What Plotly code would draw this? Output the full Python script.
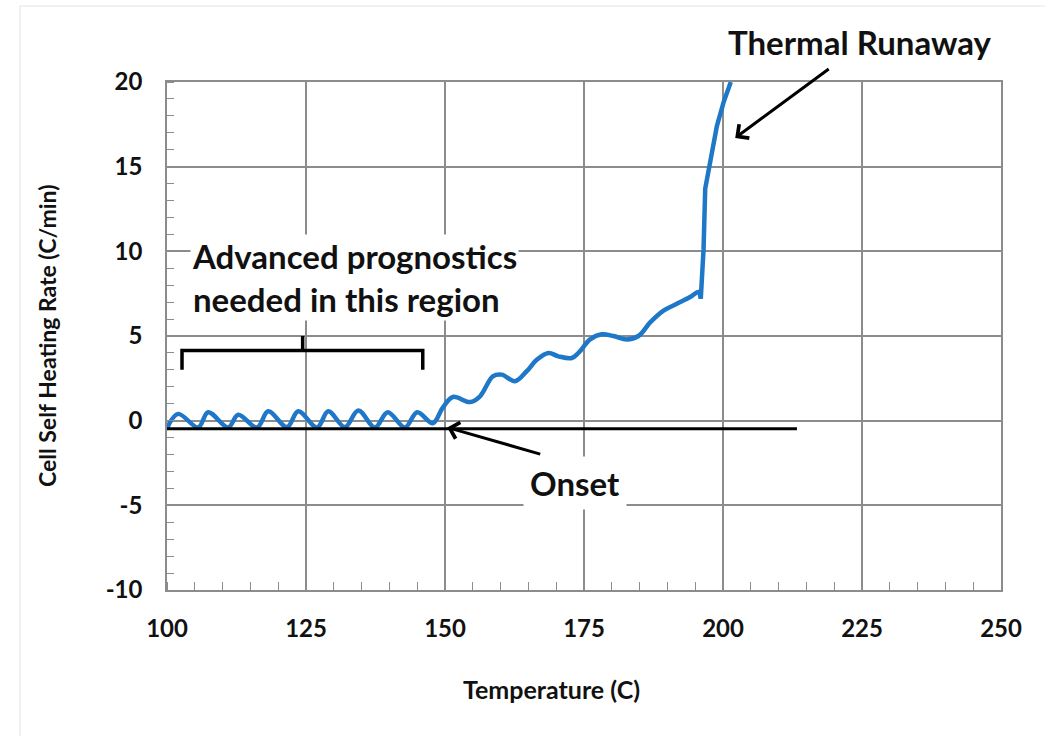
import plotly.graph_objects as go

# Data: pre-runaway heating rate (smooth)
temp_main = [100.0, 102.0, 105.6, 107.4, 111.0, 112.8, 116.2, 118.2, 121.6, 123.6,
             127.0, 129.0, 132.0, 134.4, 137.4, 139.7, 142.8, 145.0, 147.8, 149.6,
             151.4, 154.5, 156.3, 158.6, 160.2, 162.6, 164.7, 166.5, 168.6, 170.4,
             172.8, 174.0, 176.1, 178.2, 180.3, 182.7, 184.8, 186.9, 189.3, 191.7,
             194.1, 195.6, 196.0]
rate_main = [-0.45, 0.4, -0.4, 0.5, -0.4, 0.35, -0.4, 0.55, -0.38, 0.55,
             -0.4, 0.55, -0.38, 0.6, -0.4, 0.5, -0.4, 0.5, -0.15, 0.77,
             1.4, 1.1, 1.44, 2.62, 2.72, 2.33, 2.92, 3.6, 4.0, 3.8,
             3.7, 4.0, 4.8, 5.1, 5.0, 4.8, 5.0, 5.8, 6.5, 6.9,
             7.3, 7.6, 7.2]
# Data: runaway portion
temp_run = [196.0, 196.5, 196.8, 197.7, 198.9, 200.1, 201.4]
rate_run = [7.2, 10.1, 13.7, 15.4, 17.4, 18.8, 20.0]

x_ticks = [100, 125, 150, 175, 200, 225, 250]
y_ticks = [-10, -5, 0, 5, 10, 15, 20]

FONT = "Lato"
TXT = "#111111"
BLUE = "#1f77c8"
GRID = "#8c8c8c"

fig = go.Figure()
fig.add_trace(go.Scatter(x=temp_main, y=rate_main, mode="lines",
                         line=dict(color=BLUE, width=4.5, shape="spline", smoothing=1.0),
                         showlegend=False, hoverinfo="skip"))
fig.add_trace(go.Scatter(x=temp_run, y=rate_run, mode="lines",
                         line=dict(color=BLUE, width=4.5),
                         showlegend=False, hoverinfo="skip"))

# Baseline
fig.add_shape(type="line", x0=100, x1=213.3, y0=-0.47, y1=-0.47,
              line=dict(color="black", width=3), layer="above")

# Brace
fig.add_shape(type="path",
              path="M 102.7,3.0 L 102.7,4.15 L 146.0,4.15 L 146.0,3.0 M 124.4,4.15 L 124.4,5.0",
              line=dict(color="black", width=3.5))

# Outer frame
fig.add_shape(type="rect", xref="paper", yref="paper",
              x0=-0.1763, x1=1.2, y0=-0.5, y1=1.1496,
              line=dict(color="#e3e3e3", width=1), layer="below")

# Annotations
fig.add_annotation(x=(190 - 167) / 5.56 + 100, y=8.46, xanchor="left",
                   text="Advanced prognostics<br>needed in this region",
                   showarrow=False, bgcolor="white", align="left",
                   font=dict(family=FONT, size=33, color=TXT, weight="bold"))
fig.add_annotation(x=173.4, y=-3.7, text="Onset", showarrow=False, bgcolor="white",
                   borderpad=6,
                   font=dict(family=FONT, size=33, color=TXT, weight="bold"))
fig.add_annotation(x=150.4, y=-0.4, ax=167.4, ay=-2.0, axref="x", ayref="y",
                   xref="x", yref="y", text="", showarrow=True,
                   arrowhead=4, arrowsize=1.1, arrowwidth=3, arrowcolor="black")
fig.add_annotation(xref="paper", yref="paper", x=(860 - 167) / 834, y=(590 - 42) / 508,
                   xanchor="center", yanchor="middle",
                   text="Thermal Runaway", showarrow=False,
                   font=dict(family=FONT, size=33, color=TXT, weight="bold"))
fig.add_annotation(x=202.2, y=16.7, ax=95, ay=-70,
                   xref="x", yref="y", text="", showarrow=True,
                   arrowhead=4, arrowsize=1.1, arrowwidth=3, arrowcolor="black")

# Axis titles
fig.add_annotation(xref="paper", yref="paper", x=(551 - 167) / 834, y=(590 - 689) / 508,
                   xanchor="center", yanchor="middle",
                   text="Temperature (C)", showarrow=False,
                   font=dict(family=FONT, size=25, color=TXT, weight="bold"))
fig.add_annotation(xref="paper", yref="paper", x=(47 - 167) / 834, y=0.5,
                   xanchor="center", yanchor="middle",
                   text="Cell Self Heating Rate (C/min)", showarrow=False, textangle=-90,
                   font=dict(family=FONT, size=23, color=TXT, weight="bold"))

axis_common = dict(showgrid=True, gridcolor=GRID, gridwidth=1.5, showline=True,
                   linecolor=GRID, linewidth=1.5, mirror=True, zeroline=False,
                   ticks="", tickfont=dict(family=FONT, size=24, color=TXT, weight="bold"))

fig.update_xaxes(range=[100, 250], tickvals=x_ticks, ticktext=[str(v) for v in x_ticks],
                 minor=dict(dtick=5, tick0=100, ticks="inside", ticklen=8, tickcolor=GRID,
                            tickwidth=1, showgrid=False),
                 ticklabelstandoff=16, **axis_common)
fig.update_yaxes(range=[-10, 20], tickvals=y_ticks, ticktext=[str(v) for v in y_ticks],
                 minor=dict(dtick=1, tick0=0, ticks="inside", ticklen=7, tickcolor=GRID,
                            tickwidth=1, showgrid=False),
                 ticklabelstandoff=18, **axis_common)

fig.update_layout(width=1045, height=736, margin=dict(l=167, r=44, t=82, b=146),
                  paper_bgcolor="white", plot_bgcolor="white")

fig.write_html("out.html")
